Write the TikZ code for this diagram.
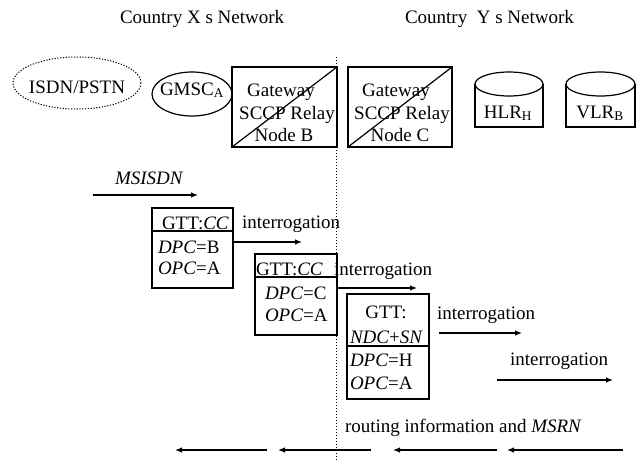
\documentclass[tikz,border=0pt]{standalone}
\usepackage{fontspec}
\setmainfont{Liberation Serif}
\usetikzlibrary{arrows.meta,shapes.geometric}
\begin{document}
\begin{tikzpicture}[x=1pt,y=-1pt,
  every node/.style={font=\fontsize{19}{21}\selectfont, inner sep=0pt, outer sep=0pt},
  lbl/.style={anchor=base},
  lblw/.style={anchor=base west},
  boxln/.style={draw, line width=1.2pt},
  arr/.style={line width=1.2pt, -{Latex[length=7pt,width=5.5pt]}},
  dotln/.style={line width=1pt, dash pattern=on 1pt off 2pt},
]
\useasboundingbox (0,0) rectangle (640,461);
% titles
\node[lblw] (tX) at (120,23) {Country X s Network};
\node[lblw] (tY) at (405,23) {Country\ \ Y s Network};
% border line
\coordinate (dt) at (336,57);
\coordinate (db) at (336,461);
\draw[dotln] (dt) -- (db);
% top row
\node[ellipse, draw, line width=1pt, dash pattern=on 1.2pt off 1.6pt, minimum width=128pt, minimum height=52pt] (isdn) at (77,83) {};
\node[lbl] (isdnt) at (77,93) {ISDN/PSTN};
\node[ellipse, boxln, minimum width=80pt, minimum height=44pt] (gmsc) at (192,94) {};
\node[lbl] (gmsct) at (192,95) {GMSC\textsubscript{A}};
\node[boxln, minimum width=105pt, minimum height=80pt] (gwB) at (284.5,107) {};
\draw[line width=1.2pt] (gwB.south west) -- (gwB.north east);
\node[lbl] (gwB1) at (281,96) {Gateway};
\node[lbl] (gwB2) at (287,119) {SCCP Relay};
\node[lbl] (gwB3) at (284,141) {Node B};
\node[boxln, minimum width=104pt, minimum height=80pt] (gwC) at (400,107) {};
\draw[line width=1.2pt] (gwC.south west) -- (gwC.north east);
\node[lbl] (gwC1) at (396,96) {Gateway};
\node[lbl] (gwC2) at (402,119) {SCCP Relay};
\node[lbl] (gwC3) at (400,141) {Node C};
% cylinders
\draw[boxln] (475,84) -- (475,127) -- (543,127) -- (543,84);
\draw[boxln] (509,84) ellipse [x radius=34, y radius=12];
\node[lbl] (hlr) at (508,118) {HLR\textsubscript{H}};
\draw[boxln] (566,84) -- (566,127) -- (635,127) -- (635,84);
\draw[boxln] (600.5,84) ellipse [x radius=34.5, y radius=12];
\node[lbl] (vlr) at (600,118) {VLR\textsubscript{B}};
% MSISDN
\node[lblw] (msisdn) at (115,184) {\itshape MSISDN};
\coordinate (m0s) at (93,195);
\coordinate (m0e) at (198,195);
\draw[arr] (m0s) -- (m0e);
% GTT box 1
\node[boxln, minimum width=81pt, minimum height=80pt] (g1) at (192.5,248) {};
\coordinate (d1) at (0,231);
\draw[line width=1.2pt] (g1.west |- d1) -- (g1.east |- d1);
\node[lblw] (g1a) at (162,229) {GTT:\textit{CC}};
\node[lblw] (g1b) at (158,253) {\textit{DPC}=B};
\node[lblw] (g1c) at (158,274) {\textit{OPC}=A};
\node[lblw] (i1) at (242,228) {interrogation};
\coordinate (a1e) at (302,242);
\draw[arr] (g1.east |- a1e) -- (a1e);
% GTT box 2
\node[boxln, minimum width=82pt, minimum height=81pt] (g2) at (296,294.5) {};
\coordinate (d2) at (0,277);
\draw[line width=1.2pt] (g2.west |- d2) -- (g2.east |- d2);
\node[lblw] (g2a) at (256,275) {GTT:\textit{CC}};
\node[lblw] (g2b) at (265,299) {\textit{DPC}=C};
\node[lblw] (g2c) at (265,321) {\textit{OPC}=A};
\node[lblw] (i2) at (334,275) {interrogation};
\coordinate (a2e) at (417,288);
\draw[arr] (g2.east |- a2e) -- (a2e);
% GTT box 3
\node[boxln, minimum width=82pt, minimum height=105pt] (g3) at (388,346.5) {};
\coordinate (d3) at (0,346);
\draw[line width=1.2pt] (g3.west |- d3) -- (g3.east |- d3);
\node[lbl] (g3a) at (386,318) {GTT:};
\node[lblw] (g3b) at (350,343) {\textit{NDC}+\textit{SN}};
\node[lblw] (g3c) at (350,366) {\textit{DPC}=H};
\node[lblw] (g3d) at (350,389) {\textit{OPC}=A};
\node[lblw] (i3) at (437,319) {interrogation};
\coordinate (a3s) at (439,333);
\coordinate (a3e) at (522,333);
\draw[arr] (a3s) -- (a3e);
\node[lblw] (i4) at (510,365) {interrogation};
\coordinate (a4s) at (497,380);
\coordinate (a4e) at (613,380);
\draw[arr] (a4s) -- (a4e);
% return path
\node[lblw] (rt) at (345,432) {routing information and \textit{MSRN}};
\coordinate (r1s) at (623,450);
\coordinate (r1e) at (507,450);
\coordinate (r2s) at (497,450);
\coordinate (r2e) at (393,450);
\coordinate (r3s) at (371,450);
\coordinate (r3e) at (278,450);
\coordinate (r4s) at (267,450);
\coordinate (r4e) at (175,450);
\draw[arr] (r1s) -- (r1e);
\draw[arr] (r2s) -- (r2e);
\draw[arr] (r3s) -- (r3e);
\draw[arr] (r4s) -- (r4e);
\end{tikzpicture}
\end{document}
